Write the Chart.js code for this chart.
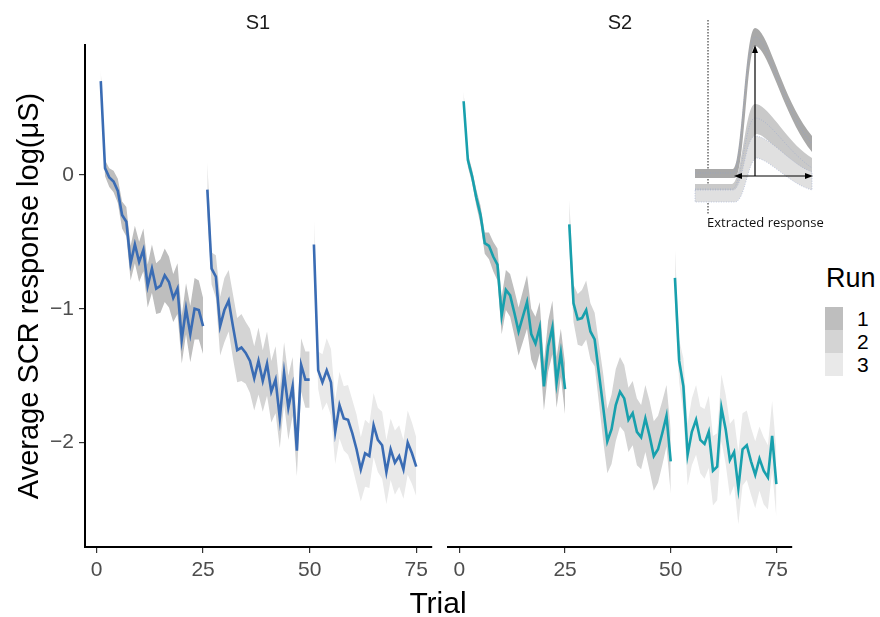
<!DOCTYPE html>
<html>
<head>
<meta charset="utf-8">
<script src="https://cdn.jsdelivr.net/npm/chart.js@4.4.1/dist/chart.umd.min.js"></script>
<style>
  body { margin: 0; background: #fff; }
  #wrap { position: relative; width: 880px; height: 617px; font-family: 'Liberation Sans', Arial, sans-serif; overflow: hidden; }
  canvas { position: absolute; top: 0; }
  #c1 { left: 0; }
  #c2 { left: 440px; }
  .strip { position: absolute; top: 10px; font-size: 20px; color: #1a1a1a; transform: translateX(-50%); line-height: 24px; }
  #xtitle { position: absolute; left: 438px; top: 586px; font-size: 30px; color: #000; transform: translateX(-50%); line-height: 34px; }
  #legend { position: absolute; left: 825px; top: 262px; }
  #legend .ttl { font-size: 27px; color: #000; line-height: 32px; margin-left: 1px; }
  #legend .row { position: absolute; left: 0; width: 60px; height: 23px; }
  #legend .key { position: absolute; left: 0; top: 0; width: 18px; height: 23px; }
  #legend .lab { position: absolute; left: 32px; top: 0; font-size: 21px; line-height: 23px; color: #000; }
  #inset { position: absolute; left: 0; top: 0; }
</style>
</head>
<body>
<div id="wrap">
  <canvas id="c1" width="440" height="617"></canvas>
  <canvas id="c2" width="360" height="617"></canvas>
  <div class="strip" style="left:258px">S1</div>
  <div class="strip" style="left:620px">S2</div>
  <div id="xtitle">Trial</div>
  <div id="legend"><div class="ttl">Run</div></div>
  <svg id="inset" width="880" height="617">
    <line x1="708" y1="20" x2="708" y2="214" stroke="#000" stroke-width="0.9" stroke-dasharray="1.5,1.5"/>
    <path d="M695,169 L733,169 C742,168 745,28 755,28 C768,28 782,100 812,136 L812,152 C784,118 768,46 755,46 C747,46 744,178 735,178 L695,178 Z" fill="#a8a8a8"/>
    <path d="M695,184 L732,184 C742,184 745,104 755,104 C769,104 786,142 812,158 L812,182 C790,170 770,136 757,134 C748,134 745,194 735,194 L695,194 Z" fill="#c9c9c9"/>
    <path d="M695,190 L733,190 C743,190 745,137 755,136 C770,136 790,164 812,172 L812,190 C790,184 770,160 757,158 C748,158 745,202 735,202 L695,202 Z" fill="#e0e0e0" stroke="#9aa8cf" stroke-width="0.6" stroke-dasharray="1,1.5"/>
    <path d="M695,173 L733,173 C742,173 745,37 755,37 C768,37 782,108 812,144" fill="none" stroke="#8fa0cc" stroke-width="0.5" stroke-dasharray="1,1.5"/>
    <path d="M695,189 L732,189 C742,189 745,118 755,118 C769,118 786,150 812,168" fill="none" stroke="#8fa0cc" stroke-width="0.5" stroke-dasharray="1,1.5"/>
    <line x1="755" y1="176" x2="755" y2="50" stroke="#000" stroke-width="1.2"/>
    <path d="M755,45 L752,53 L758,53 Z" fill="#000"/>
    <line x1="740" y1="176" x2="807" y2="176" stroke="#000" stroke-width="1.2"/>
    <path d="M734,176 L742,173 L742,179 Z" fill="#000"/>
    <path d="M813,176 L805,173 L805,179 Z" fill="#000"/>
    <text x="707" y="227" font-family="'Open Sans', 'Noto Sans', sans-serif" font-size="13" fill="#111">Extracted response</text>
  </svg>
</div>
<script>
// trial numbers, runs of 25
const trials = [1, 2, 3, 4, 5, 6, 7, 8, 9, 10, 11, 12, 13, 14, 15, 16, 17, 18, 19, 20, 21, 22, 23, 24, 25,
  26, 27, 28, 29, 30, 31, 32, 33, 34, 35, 36, 37, 38, 39, 40, 41, 42, 43, 44, 45, 46, 47, 48, 49, 50,
  51, 52, 53, 54, 55, 56, 57, 58, 59, 60, 61, 62, 63, 64, 65, 66, 67, 68, 69, 70, 71, 72, 73, 74, 75]
const runs = ['1', '2', '3']
const runFirstTrial = [1, 26, 51]
const runLastTrial = [25, 50, 75]

const xTicks = [0, 25, 50, 75]
const yTicks = [0, -1, -2]

// S1 mean log SCR and its ribbon half width
const s1Mean = [0.70, 0.05, -0.02, -0.05, -0.12, -0.30, -0.35, -0.66, -0.52, -0.65, -0.56, -0.83, -0.70, -0.85, -0.83, -0.75, -0.80, -0.92, -0.85, -1.23, -1.00, -1.19, -1.00, -1.01, -1.13,
  -0.11, -0.70, -0.76, -1.13, -1.01, -0.94, -1.13, -1.31, -1.29, -1.33, -1.39, -1.52, -1.39, -1.54, -1.41, -1.62, -1.53, -1.82, -1.48, -1.74, -1.58, -2.06, -1.42, -1.53, -1.53,
  -0.52, -1.46, -1.55, -1.46, -1.55, -1.92, -1.72, -1.82, -1.83, -1.93, -2.05, -2.20, -2.08, -2.10, -1.87, -1.98, -2.02, -2.22, -2.05, -2.15, -2.10, -2.20, -2.00, -2.08, -2.18]
const s1Se = [0.08, 0.06, 0.07, 0.08, 0.09, 0.10, 0.11, 0.13, 0.14, 0.15, 0.16, 0.16, 0.18, 0.19, 0.20, 0.20, 0.19, 0.18, 0.19, 0.18, 0.19, 0.21, 0.23, 0.22, 0.21,
  0.20, 0.12, 0.16, 0.22, 0.24, 0.23, 0.24, 0.24, 0.25, 0.23, 0.24, 0.24, 0.25, 0.23, 0.24, 0.23, 0.25, 0.22, 0.23, 0.24, 0.22, 0.19, 0.20, 0.21, 0.21,
  0.20, 0.14, 0.21, 0.24, 0.25, 0.24, 0.25, 0.24, 0.26, 0.25, 0.26, 0.24, 0.25, 0.24, 0.24, 0.24, 0.25, 0.24, 0.23, 0.24, 0.23, 0.22, 0.24, 0.23, 0.22]

// S2
const s2Mean = [0.55, 0.11, -0.01, -0.17, -0.30, -0.51, -0.53, -0.61, -0.67, -1.05, -0.86, -0.90, -1.03, -1.17, -1.06, -0.95, -1.19, -1.26, -1.14, -1.58, -1.28, -1.14, -1.55, -1.33, -1.60,
  -0.37, -0.96, -1.08, -1.07, -1.01, -1.17, -1.23, -1.48, -1.73, -1.99, -1.90, -1.72, -1.62, -1.67, -1.83, -1.78, -1.92, -1.96, -1.82, -1.95, -2.10, -2.05, -1.93, -1.80, -2.14,
  -0.77, -1.39, -1.58, -2.09, -1.92, -1.83, -1.98, -2.01, -1.92, -2.21, -2.18, -1.74, -1.90, -2.13, -2.07, -2.34, -2.05, -2.02, -2.14, -2.24, -2.12, -2.21, -2.26, -1.95, -2.31]
const s2Se = [0.07, 0.05, 0.05, 0.06, 0.07, 0.08, 0.10, 0.11, 0.12, 0.14, 0.15, 0.16, 0.17, 0.18, 0.19, 0.20, 0.19, 0.20, 0.19, 0.18, 0.19, 0.20, 0.19, 0.18, 0.19,
  0.18, 0.14, 0.19, 0.21, 0.22, 0.21, 0.20, 0.22, 0.25, 0.24, 0.26, 0.27, 0.26, 0.25, 0.24, 0.24, 0.25, 0.24, 0.25, 0.26, 0.26, 0.25, 0.24, 0.23, 0.24,
  0.22, 0.16, 0.21, 0.23, 0.25, 0.26, 0.25, 0.26, 0.27, 0.26, 0.25, 0.25, 0.26, 0.27, 0.25, 0.27, 0.27, 0.26, 0.25, 0.25, 0.24, 0.25, 0.24, 0.26, 0.25]

const runFills = ['rgb(190, 190, 190)', 'rgb(212, 212, 212)', 'rgb(233, 233, 233)']
const s1Color = '#3a6cb4'
const s2Color = '#18a0ad'

Chart.defaults.font.family = "'Liberation Sans', Arial, sans-serif"

function minusLabel(v) {
    return v < 0 ? '\u2212' + Math.abs(v) : String(v)
}

function runPoints(values, r, sign, se) {
    let pts = []
    for (let i = 0; i < trials.length; i++) {
        if (trials[i] < runFirstTrial[r] || trials[i] > runLastTrial[r]) continue
        let y = values[i]
        if (se) y = values[i] + sign * se[i]
        pts.push({x: trials[i], y: y})
    }
    return pts
}

function buildDatasets(mean, se, color) {
    let sets = []
    runs.forEach((run, r) => {
        sets.push({
            label: 'upper ' + run,
            data: runPoints(mean, r, 1, se),
            borderColor: 'transparent',
            backgroundColor: runFills[r],
            borderWidth: 0,
            pointRadius: 0,
            fill: '+1',
            order: 2
        })
        sets.push({
            label: 'lower ' + run,
            data: runPoints(mean, r, -1, se),
            borderColor: 'transparent',
            borderWidth: 0,
            pointRadius: 0,
            fill: false,
            order: 2
        })
    })
    runs.forEach((run, r) => {
        sets.push({
            label: 'Run ' + run,
            data: runPoints(mean, r, 0, null),
            borderColor: color,
            borderWidth: 2.6,
            pointRadius: 0,
            fill: false,
            tension: 0,
            order: 1
        })
    })
    return sets
}

function axisX() {
    return {
        type: 'linear',
        min: -2.7,
        max: 78.7,
        afterBuildTicks: s => { s.ticks = xTicks.map(v => ({value: v})) },
        afterFit: s => { s.height = 70 },
        ticks: { color: '#4d4d4d', font: {size: 21}, padding: 5, maxRotation: 0 },
        grid: { drawOnChartArea: false, tickLength: 6, color: '#333', lineWidth: 1.2 },
        border: { color: '#000', width: 2 }
    }
}

function axisY(show) {
    return {
        display: show,
        min: -2.78,
        max: 0.97,
        afterBuildTicks: s => { s.ticks = yTicks.map(v => ({value: v})) },
        afterFit: s => { s.width = show ? 85 : 0 },
        ticks: { color: '#4d4d4d', font: {size: 21}, padding: 5, callback: v => minusLabel(v) },
        grid: { drawOnChartArea: false, tickLength: 6, color: '#333', lineWidth: 1.2 },
        border: { color: '#000', width: 2 },
        title: { display: true, text: 'Average SCR response log(μS)', color: '#000', font: {size: 29}, padding: {top: 13, bottom: 0} }
    }
}

function createPanel(target, mean, se, color, showY) {
    const ctx = document.getElementById(target).getContext('2d')
    return new Chart(ctx, {
        type: 'line',
        data: { datasets: buildDatasets(mean, se, color) },
        options: {
            responsive: false,
            animation: false,
            layout: { padding: showY ? {top: 45, right: 8, left: 0, bottom: 0} : {top: 45, right: 8, left: 8, bottom: 0} },
            plugins: { legend: { display: false }, tooltip: { enabled: false } },
            scales: { x: axisX(), y: axisY(showY) }
        }
    })
}

function drawLegend() {
    let box = document.getElementById('legend')
    runs.forEach((run, r) => {
        let row = document.createElement('div')
        row.className = 'row'
        row.style.top = (45 + r * 23) + 'px'
        row.innerHTML = '<div class="key" style="background:' + runFills[r] + '"></div><div class="lab">' + run + '</div>'
        box.appendChild(row)
    })
}

createPanel('c1', s1Mean, s1Se, s1Color, true)
createPanel('c2', s2Mean, s2Se, s2Color, false)
drawLegend()
</script>
</body>
</html>
